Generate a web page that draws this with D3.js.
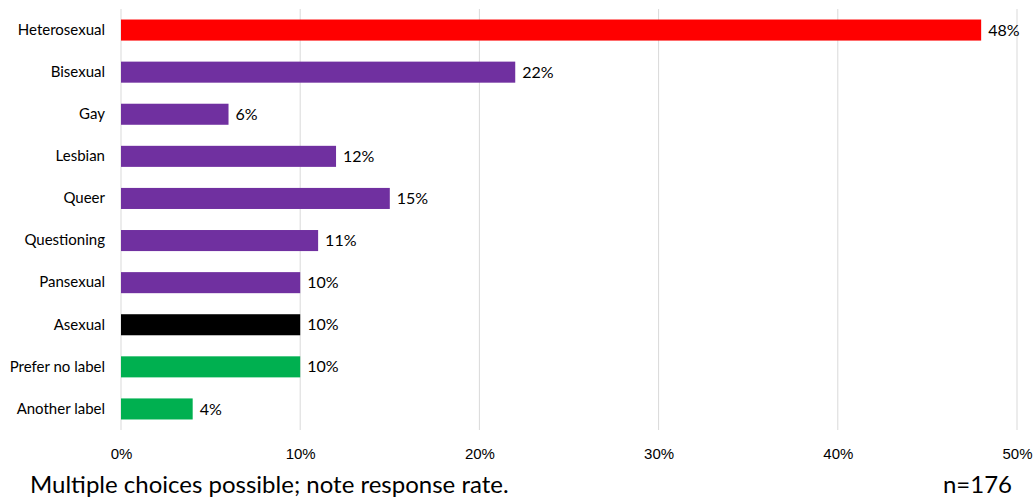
<!DOCTYPE html>
<html><head><meta charset="utf-8">
<script src="https://cdn.jsdelivr.net/npm/d3@7"></script>
<style>body{margin:0;background:#fff;} svg{display:block;font-family:Lato,"Open Sans",sans-serif;}</style>
</head><body>
<svg id="c" width="1035" height="500"></svg>
<script>
const categories = ["Heterosexual","Bisexual","Gay","Lesbian","Queer","Questioning","Pansexual","Asexual","Prefer no label","Another label"];
const values = [48,22,6,12,15,11,10,10,10,4];
const colors = ["#FF0000","#7030A0","#7030A0","#7030A0","#7030A0","#7030A0","#7030A0","#000000","#00B050","#00B050"];
const xTicks = [0,10,20,30,40,50];
const footLeft = "Multiple choices possible; note response rate.";
const footRight = "n=176";

(function(){
const svg = d3.select("#c");
const pl = 121, pr = 1017, pt = 9, pb = 430;
const x = d3.scaleLinear().domain([0,50]).range([pl,pr]);
const y = d3.scaleBand().domain(categories).range([pt,pb]).paddingInner(0.5).paddingOuter(0.25);

svg.append("g").selectAll("line").data(xTicks).join("line")
  .attr("x1",d=>x(d)).attr("x2",d=>x(d)).attr("y1",pt).attr("y2",pb)
  .attr("stroke","#d9d9d9").attr("stroke-width",1);

svg.append("g").selectAll("rect").data(categories).join("rect")
  .attr("x",x(0)).attr("y",d=>y(d)).attr("height",y.bandwidth())
  .attr("width",(d,i)=>x(values[i])-x(0)).attr("fill",(d,i)=>colors[i]);

svg.append("g").selectAll("text").data(categories).join("text")
  .attr("x",(d,i)=>x(values[i])+7).attr("y",d=>y(d)+y.bandwidth()/2).attr("dy","0.35em")
  .attr("font-size",16).attr("fill","#000").text((d,i)=>values[i]+"%");

const yAxis = svg.append("g").attr("transform",`translate(${pl},0)`).call(d3.axisLeft(y).tickSize(0).tickPadding(16));
yAxis.select(".domain").remove();
yAxis.selectAll("text").attr("font-size",15).attr("fill","#000").style("font-family","Lato,'Open Sans',sans-serif");

const xAxis = svg.append("g").attr("transform",`translate(0,${pb})`).call(d3.axisBottom(x).tickValues(xTicks).tickSize(0).tickPadding(18).tickFormat(d=>d+"%"));
xAxis.select(".domain").remove();
xAxis.selectAll("text").attr("font-size",15).attr("fill","#000").style("font-family","'Liberation Sans',Arial,sans-serif");

svg.append("text").attr("x",30).attr("y",493).attr("font-size",24).attr("fill","#000").text(footLeft);
svg.append("text").attr("x",1012).attr("y",493).attr("text-anchor","end").attr("font-size",24).attr("fill","#000").text(footRight);
})();
</script>
</body></html>
